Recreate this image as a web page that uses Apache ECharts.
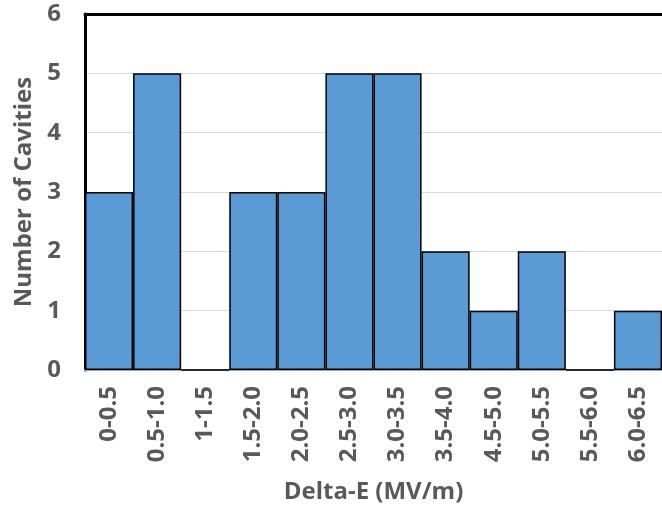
<!DOCTYPE html>
<html>
<head>
<meta charset="utf-8">
<script src="https://cdn.jsdelivr.net/npm/echarts@6/dist/echarts.min.js"></script>
<style>
html,body{margin:0;padding:0;background:#fff;}
#chart{width:662px;height:509px;}
</style>
</head>
<body>
<div id="chart"></div>
<script>
const categories = ['0-0.5','0.5-1.0','1-1.5','1.5-2.0','2.0-2.5','2.5-3.0','3.0-3.5','3.5-4.0','4.5-5.0','5.0-5.5','5.5-6.0','6.0-6.5'];
const counts = [3,5,0,3,3,5,5,2,1,2,0,1];
const yTicks = [0,1,2,3,4,5,6];

const FONT = '"Open Sans", sans-serif';
const TXT = '#595959';

const chart = echarts.init(document.getElementById('chart'), null, {renderer:'canvas'});
chart.setOption({
  animation:false,
  backgroundColor:'#fff',
  grid:{left:85, top:14, right:-3, bottom:139, containLabel:false},
  xAxis:[{
    type:'category',
    data:categories,
    position:'bottom',
    boundaryGap:true,
    axisLine:{show:true, lineStyle:{color:'#a6a6a6', width:2}},
    axisTick:{show:false},
    axisLabel:{rotate:90, interval:0, margin:16, color:TXT, fontFamily:FONT, fontWeight:'bold', fontSize:24},
    name:'Delta-E (MV/m)',
    nameLocation:'middle',
    nameGap:110,
    nameTextStyle:{color:TXT, fontFamily:FONT, fontWeight:'bold', fontSize:24}
  },{
    type:'category',
    data:categories,
    position:'top',
    axisLine:{show:true, onZero:false, lineStyle:{color:'#000', width:3}},
    axisTick:{show:false},
    axisLabel:{show:false}
  }],
  yAxis:{
    type:'value',
    min:0, max:6, interval:1,
    axisLine:{show:true, lineStyle:{color:'#000', width:3}},
    axisTick:{show:false},
    splitLine:{show:true, lineStyle:{color:'#d9d9d9', width:1}},
    axisLabel:{margin:24, color:TXT, fontFamily:FONT, fontWeight:'bold', fontSize:24,
      formatter:function(v){ return yTicks.indexOf(v) >= 0 ? String(v) : ''; }},
    name:'Number of Cavities',
    nameLocation:'middle',
    nameGap:48,
    nameTextStyle:{color:TXT, fontFamily:FONT, fontWeight:'bold', fontSize:24}
  },
  series:[{
    type:'bar',
    data:counts,
    barCategoryGap:'0%',
    barGap:'0%',
    itemStyle:{color:'#5B9BD5', borderColor:'#000', borderWidth:1.5}
  }]
});
</script>
</body>
</html>
